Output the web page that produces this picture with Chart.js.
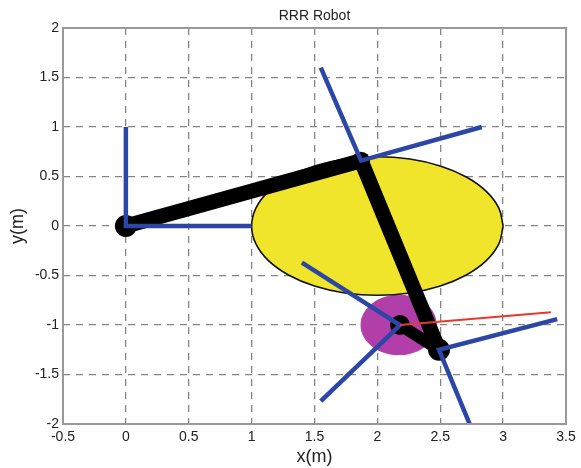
<!DOCTYPE html>
<html><head><meta charset="utf-8">
<style>html,body{margin:0;padding:0;background:#fff}canvas{display:block}</style>
<script src="https://cdn.jsdelivr.net/npm/chart.js@4"></script>
</head><body><canvas id="c" width="581" height="468"></canvas>
<script>
const xTicks=[-0.5,0,0.5,1,1.5,2,2.5,3,3.5];
const yTicks=[-2,-1.5,-1,-0.5,0,0.5,1,1.5,2];
const yellowX=[3,2.966,2.866,2.707,2.5,2.259,2,1.741,1.5,1.293,1.134,1.034,1,1.034,1.134,1.293,1.5,1.741,2,2.259,2.5,2.707,2.866,2.966,3];
const yellowY=[0,0.181,0.35,0.495,0.606,0.676,0.7,0.676,0.606,0.495,0.35,0.181,0,-0.181,-0.35,-0.495,-0.606,-0.676,-0.7,-0.676,-0.606,-0.495,-0.35,-0.181,0];
const purpleX=[2.47,2.447,2.382,2.285,2.17,2.055,1.958,1.893,1.87,1.893,1.958,2.055,2.17,2.285,2.382,2.447,2.47];
const purpleY=[-1,-0.885,-0.788,-0.723,-0.7,-0.723,-0.788,-0.885,-1,-1.115,-1.212,-1.277,-1.3,-1.277,-1.212,-1.115,-1];
const linkX=[0,1.87,2.49];
const linkY=[0,0.66,-1.25];
const link3X=[2.49,2.18];
const link3Y=[-1.25,-1];
const jointX=[0,1.87,2.49,2.18];
const jointY=[0,0.66,-1.25,-1];
const jointR=[11,9,11,10];
const frames=[
 {x:[1,0,0],y:[0,0,1]},
 {x:[2.83,1.87,1.55],y:[1,0.66,1.6]},
 {x:[3.43,2.49,2.75],y:[-0.94,-1.25,-2.05]},
 {x:[1.4,2.18,1.55],y:[-0.37,-1,-1.77]}
];
const redX=[2.18,3.38];
const redY=[-1,-0.87];
const pts=(xs,ys)=>xs.map((x,i)=>({x,y:ys[i]}));
const blue='#2c46a6';
const line=(data,color,w,order,extra)=>Object.assign({data:data,showLine:true,borderColor:color,borderWidth:w,pointRadius:0,fill:false,order:order,borderJoinStyle:'miter',borderCapStyle:'butt'},extra||{});
const datasets=[
 line(pts(yellowX,yellowY),'#111',1.6,9,{backgroundColor:'#f1e52b',fill:'shape',tension:0.4}),
 line(pts(purpleX,purpleY),'#b23fa9',1,10,{backgroundColor:'#b23fa9',fill:'shape',tension:0.4}),
 line(pts(linkX,linkY),'#000',15,6,{borderJoinStyle:'round'}),
 line(pts(link3X,link3Y),'#000',12,5),
 {data:pts(jointX,jointY),showLine:false,pointRadius:jointR,pointBackgroundColor:'#000',pointBorderWidth:0,order:4},
 ...frames.map(f=>line(pts(f.x,f.y),blue,4.5,3)),
 line(pts(redX,redY),'#e8382d',2,1)
];
const frame={id:'frame',afterDraw(ch){const a=ch.chartArea,c=ch.ctx;c.save();c.strokeStyle='#999';c.lineWidth=2;c.strokeRect(a.left,a.top,a.right-a.left,a.bottom-a.top);c.restore();}};
new Chart(document.getElementById('c'),{
 type:'scatter',
 data:{datasets},
 plugins:[frame],
 options:{
  responsive:false,animation:false,
  layout:{padding:{top:0,right:15,bottom:0,left:0}},
  plugins:{legend:{display:false},tooltip:{enabled:false},
   title:{display:true,fullSize:false,text:'RRR Robot',color:'#222',font:{family:'Liberation Sans',size:14,weight:'normal'},padding:{top:8,bottom:3.2}}},
  scales:{
   x:{type:'linear',min:-0.5,max:3.5,
    afterBuildTicks(s){s.ticks=xTicks.map(v=>({value:v}));},
    afterFit(s){s.height=44;},
    grid:{color:'#858585',lineWidth:1.3,drawTicks:false},
    border:{display:false,dash:[7,6]},
    ticks:{color:'#222',padding:5,maxRotation:0,font:{family:'Liberation Sans',size:14},callback:v=>String(v)},
    title:{display:true,text:'x(m)',color:'#222',padding:{top:3,bottom:0},font:{family:'Liberation Sans',size:18}}},
   y:{type:'linear',min:-2,max:2,
    afterBuildTicks(s){s.ticks=yTicks.map(v=>({value:v}));},
    afterFit(s){s.width=63;},
    grid:{color:'#858585',lineWidth:1.3,drawTicks:false},
    border:{display:false,dash:[7,6]},
    ticks:{color:'#222',padding:4,font:{family:'Liberation Sans',size:14},callback:v=>String(v)},
    title:{display:true,text:'y(m)',color:'#222',padding:{top:7,bottom:0},font:{family:'Liberation Sans',size:18}}}
  }
 }
});
</script></body></html>
